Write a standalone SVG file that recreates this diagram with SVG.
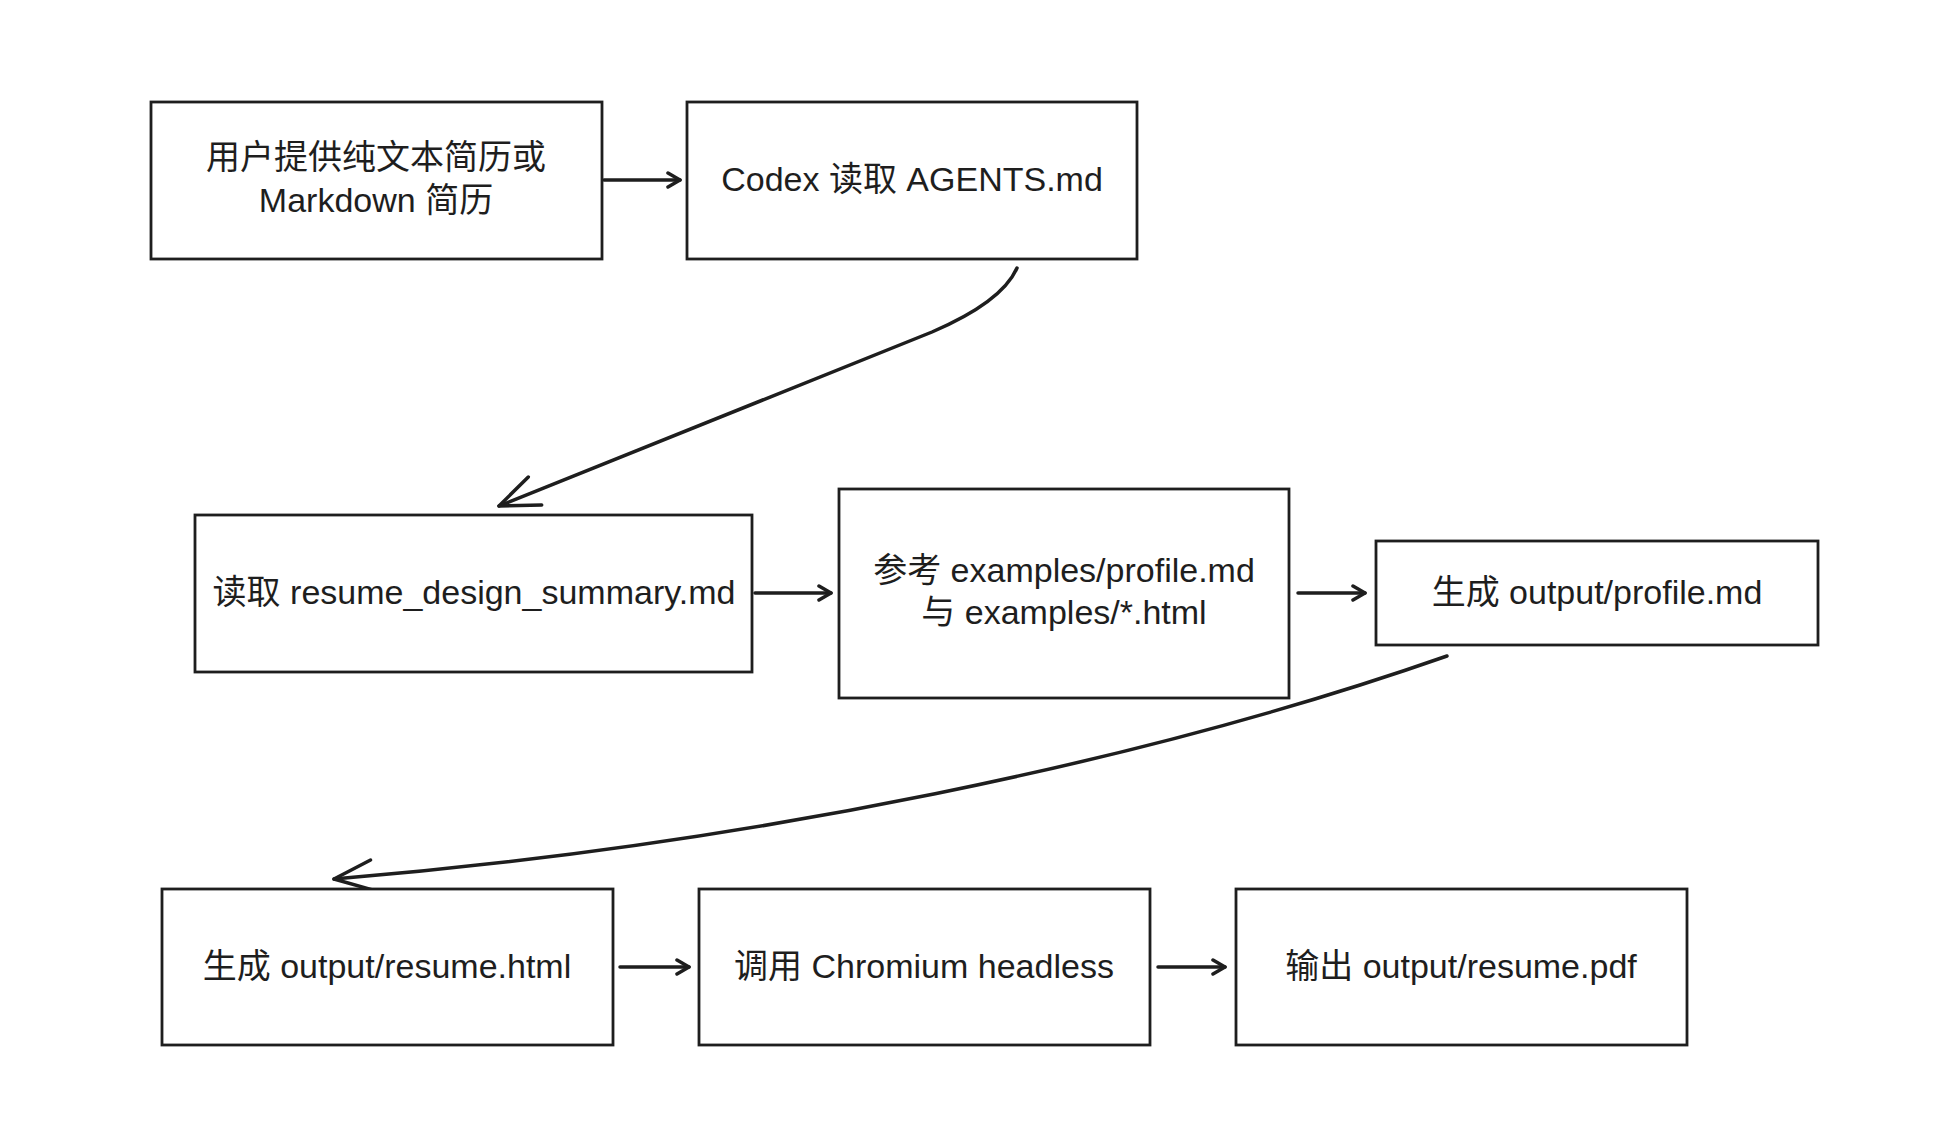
<svg xmlns="http://www.w3.org/2000/svg" width="1934" height="1144" viewBox="0 0 1934 1144">
<defs>
<style>
.box{fill:#fff;stroke:#1e1e1e;stroke-width:2.8;}
.edge{fill:none;stroke:#1e1e1e;stroke-width:3.5;stroke-linecap:round;}
.t{font-family:"Liberation Sans","Noto Sans CJK SC",sans-serif;font-size:34px;fill:#1e1e1e;text-anchor:middle;}
</style>
<marker id="ah" viewBox="-14 -9 16 18" markerWidth="16" markerHeight="18" refX="0" refY="0" orient="auto" markerUnits="userSpaceOnUse">
<path d="M-12,-7 L0,0 L-12,7" fill="none" stroke="#1e1e1e" stroke-width="3.5" stroke-linecap="round" stroke-linejoin="round"/>
</marker>
<marker id="ahL" viewBox="-44 -20 48 40" markerWidth="48" markerHeight="40" refX="0" refY="0" orient="auto" markerUnits="userSpaceOnUse">
<path d="M-40,-15 L0,0 L-38,16" fill="none" stroke="#1e1e1e" stroke-width="3.5" stroke-linecap="round" stroke-linejoin="round"/>
</marker>
</defs>
<rect width="1934" height="1144" fill="#fff"/>
<g id="connectors">
<path class="edge" d="M604,180 L680,180" marker-end="url(#ah)"/>
<path class="edge" d="M1017,268 Q1002,302 932,332 L499,506" marker-end="url(#ahL)"/>
<path class="edge" d="M755,593 L831,593" marker-end="url(#ah)"/>
<path class="edge" d="M1298,593 L1365,593" marker-end="url(#ah)"/>
<path class="edge" d="M1447,656 C1150,760 750,845 334,879" marker-end="url(#ahL)"/>
<path class="edge" d="M620,967 L689,967" marker-end="url(#ah)"/>
<path class="edge" d="M1158,967 L1225,967" marker-end="url(#ah)"/>
</g>
<g id="n1"><rect class="box" x="151" y="102" width="451" height="157"/>
<text class="t" x="376" y="169">用户提供纯文本简历或</text>
<text class="t" x="376" y="212">Markdown 简历</text></g>
<g id="n2"><rect class="box" x="687" y="102" width="450" height="157"/>
<text class="t" x="912" y="191">Codex 读取 AGENTS.md</text></g>
<g id="n3"><rect class="box" x="195" y="515" width="557" height="157"/>
<text class="t" x="474" y="604">读取 resume_design_summary.md</text></g>
<g id="n4"><rect class="box" x="839" y="489" width="450" height="209"/>
<text class="t" x="1064" y="582">参考 examples/profile.md</text>
<text class="t" x="1064" y="624">与 examples/*.html</text></g>
<g id="n5"><rect class="box" x="1376" y="541" width="442" height="104"/>
<text class="t" x="1597" y="604">生成 output/profile.md</text></g>
<g id="n6"><rect class="box" x="162" y="889" width="451" height="156"/>
<text class="t" x="387" y="978">生成 output/resume.html</text></g>
<g id="n7"><rect class="box" x="699" y="889" width="451" height="156"/>
<text class="t" x="924" y="978">调用 Chromium headless</text></g>
<g id="n8"><rect class="box" x="1236" y="889" width="451" height="156"/>
<text class="t" x="1461" y="978">输出 output/resume.pdf</text></g>
</svg>
